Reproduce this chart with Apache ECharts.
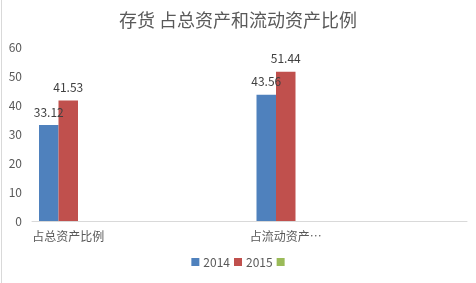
<!DOCTYPE html>
<html>
<head>
<meta charset="utf-8">
<script src="https://cdn.jsdelivr.net/npm/echarts@6/dist/echarts.min.js"></script>
<style>
html,body{margin:0;padding:0;background:#fff;}
#chart{width:476px;height:283px;}
</style>
</head>
<body>
<div id="chart"></div>
<script>
var titleText = '存货 占总资产和流动资产比例';
var categories = ['占总资产比例', '占流动资产比例'];
var seriesNames = ['2014', '2015', '系列3'];
var values2014 = [33.12, 43.56];
var values2015 = [41.53, 51.44];
var values3 = [null, null];
var yTicks = [0, 10, 20, 30, 40, 50, 60];

var font = 'Noto Sans CJK SC';
var labelStyle = {
  show: true, position: 'top', distance: 7,
  color: '#404040', fontSize: 12, fontFamily: font
};
var chart = echarts.init(document.getElementById('chart'), null, {renderer: 'canvas'});
chart.setOption({
  animation: false,
  backgroundColor: '#fff',
  title: {
    text: titleText, left: 'center', top: 6,
    textStyle: {fontSize: 18, fontWeight: 'normal', color: '#595959', fontFamily: font}
  },
  legend: {
    data: seriesNames, bottom: 10, left: 'center',
    itemWidth: 8, itemHeight: 8, itemGap: 4, icon: 'rect',
    formatter: function (n) { return n === '系列3' ? '' : n; },
    textStyle: {fontSize: 12, color: '#595959', fontFamily: font, padding: [0, 0, 0, -1]}
  },
  grid: {left: 32, right: 9, top: 47, bottom: 62},
  xAxis: {
    type: 'category', data: categories,
    axisLine: {lineStyle: {color: '#d9d9d9'}},
    axisTick: {show: false},
    axisLabel: {
      margin: 9, align: 'center', interval: 0,
      formatter: function (v) { return '{a|' + (v.length > 6 ? v.slice(0, 5) + '…' : v) + '}'; },
      rich: {a: {width: 217, align: 'left', fontSize: 12, color: '#595959', fontFamily: font}}
    }
  },
  yAxis: {
    type: 'value', min: yTicks[0], max: yTicks[yTicks.length - 1], interval: 10,
    axisLine: {show: false}, axisTick: {show: false},
    splitLine: {show: false},
    axisLabel: {margin: 10, fontSize: 12, color: '#595959', fontFamily: font}
  },
  series: [
    {name: seriesNames[0], type: 'bar', data: values2014, barWidth: 19.5, barGap: '0%',
      itemStyle: {color: '#4F81BD'}, label: labelStyle},
    {name: seriesNames[1], type: 'bar', data: values2015, barWidth: 19.5, barGap: '0%',
      itemStyle: {color: '#C0504D'}, label: labelStyle},
    {name: seriesNames[2], type: 'bar', data: values3, barWidth: 19.5, barGap: '0%',
      itemStyle: {color: '#9BBB59'}},
    {name: 'pad', type: 'bar', data: [null, null], barWidth: 145, barGap: '0%',
      itemStyle: {color: 'transparent'}, silent: true}
  ],
  graphic: [{
    type: 'line', shape: {x1: 1.5, y1: 0, x2: 1.5, y2: 283},
    style: {stroke: '#d9d9d9', lineWidth: 1}, silent: true
  }]
});
</script>
</body>
</html>
